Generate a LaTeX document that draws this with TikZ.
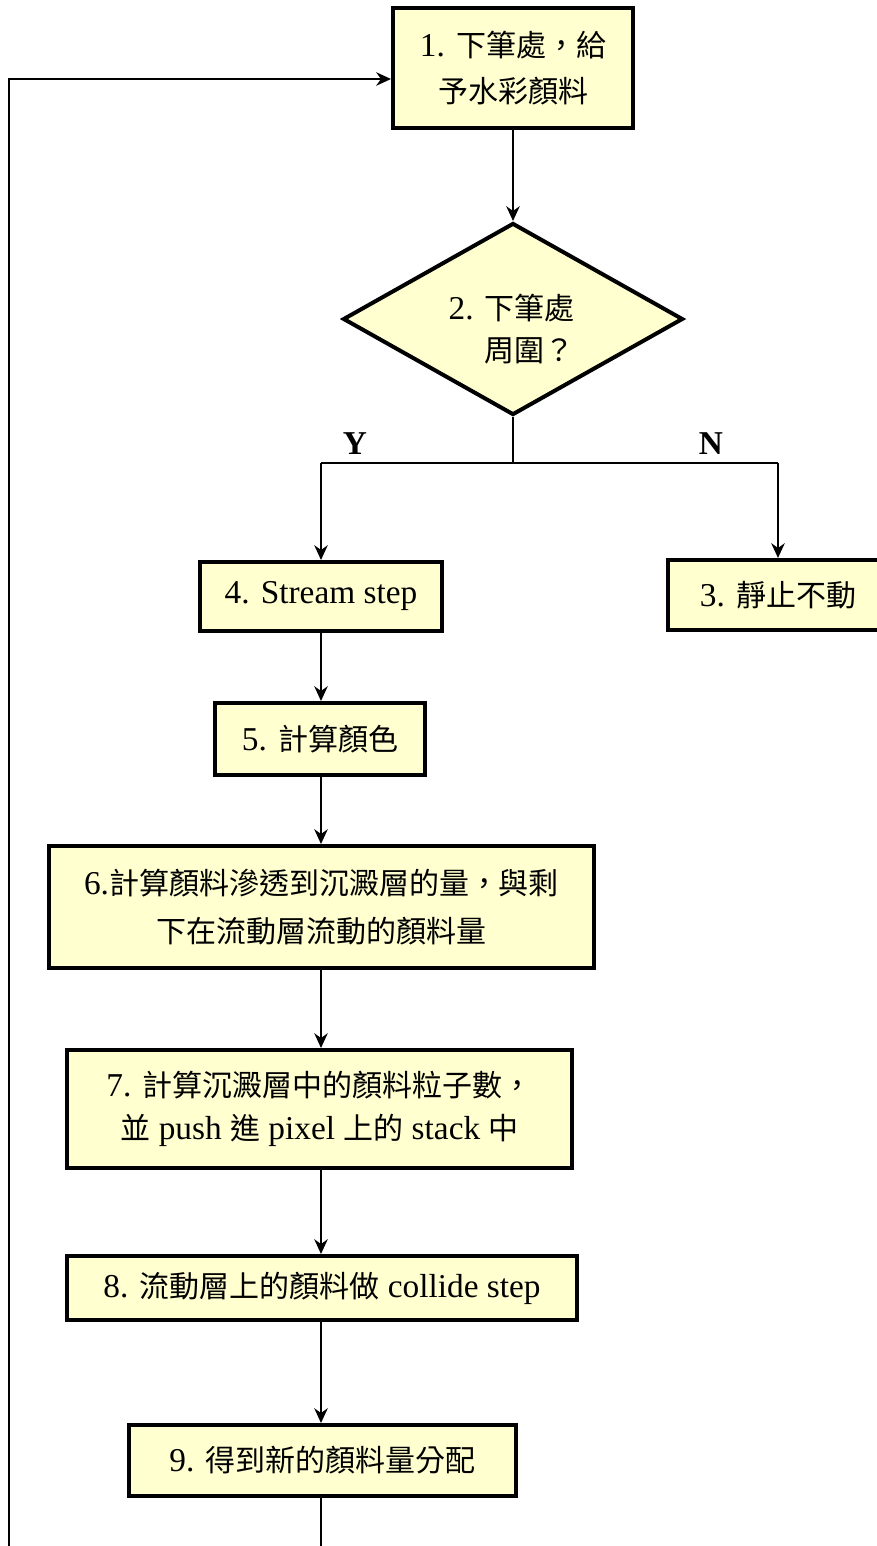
\documentclass[tikz,border=0pt]{standalone}
\usepackage{fontspec}
\setmainfont{Liberation Serif}
\newfontfamily\cjk[Scale=0.9]{Noto Sans CJK TC}
\newcommand\zh[1]{{\cjk #1}}
\usetikzlibrary{shapes.geometric,arrows.meta}
\definecolor{boxfill}{RGB}{255,255,208}
\def\pu{0.75pt}
\tikzset{
  stepbox/.style={draw=black, line width=3pt, fill=boxfill, inner sep=0pt, align=center,
    font=\fontsize{25}{34}\selectfont},
  decision/.style={shape=diamond, draw=black, line width=3pt, fill=boxfill, inner sep=0pt},
  conn/.style={draw=black, line width=2.1pt},
  flow/.style={conn, -{Stealth[length=11pt,width=10pt,inset=3.5pt]}},
  yn/.style={font=\fontsize{25}{30}\selectfont\bfseries, inner sep=0pt}
}
\begin{document}
\begin{tikzpicture}[x=\pu,y=-\pu]
\useasboundingbox (0,0) rectangle (877,1546);

\node[stepbox, minimum width=240*\pu, minimum height=120*\pu] (b1) at (513,68)
  {1. \zh{下筆處，給}\\[0pt]\zh{予水彩顏料}};
\node[decision, minimum width=340*\pu, minimum height=192*\pu] (d2) at (513,319) {};
\node[align=right, inner sep=0pt, anchor=east, font=\fontsize{25}{32}\selectfont] (d2t) at (575,329)
  {2. \zh{下筆處}\\\zh{周圍？}};

\coordinate (jc) at (513,463);
\coordinate (jy) at (321,463);
\coordinate (jn) at (778,463);
\node[yn] (ylab) at (355,444) {Y};
\node[yn] (nlab) at (711,444) {N};

\node[stepbox, minimum width=220*\pu, minimum height=70*\pu] (b3) at (778,595) {3. \zh{靜止不動}};
\node[stepbox, minimum width=242*\pu, minimum height=69*\pu] (b4) at (321,596.5) {4. Stream step};
\node[stepbox, minimum width=210*\pu, minimum height=72*\pu] (b5) at (320,739) {5. \zh{計算顏色}};
\node[stepbox, minimum width=545*\pu, minimum height=122*\pu] (b6) at (321.5,907)
  {6.\zh{計算顏料滲透到沉澱層的量，與剩}\\[2pt]\zh{下在流動層流動的顏料量}};
\node[stepbox, minimum width=505*\pu, minimum height=118*\pu] (b7) at (319.5,1109)
  {7. \zh{計算沉澱層中的顏料粒子數，}\\[-2pt]\zh{並} push \zh{進} pixel \zh{上的} stack \zh{中}};
\node[stepbox, minimum width=510*\pu, minimum height=64*\pu] (b8) at (322,1288)
  {8. \zh{流動層上的顏料做} collide step};
\node[stepbox, minimum width=387*\pu, minimum height=71*\pu] (b9) at (322.5,1460.5)
  {9. \zh{得到新的顏料量分配}};

\coordinate (bot) at (321,1552);
\coordinate (botl) at (9,1552);
\coordinate (topl) at (9,79);

\draw[flow] (b1.south) -- (d2.north);
\draw[conn] (d2.south) -- (jc);
\draw[conn] (jy) -- (jn);
\draw[flow] (jy) -- (jy |- b4.north);
\draw[flow] (jn) -- (jn |- b3.north);
\draw[flow] (jy |- b4.south) -- (jy |- b5.north);
\draw[flow] (jy |- b5.south) -- (jy |- b6.north);
\draw[flow] (jy |- b6.south) -- (jy |- b7.north);
\draw[flow] (jy |- b7.south) -- (jy |- b8.north);
\draw[flow] (jy |- b8.south) -- (jy |- b9.north);
\draw[conn] (jy |- b9.south) -- (bot);
\draw[flow] (botl) -- (topl) -- (b1.west |- topl);
\end{tikzpicture}
\end{document}
